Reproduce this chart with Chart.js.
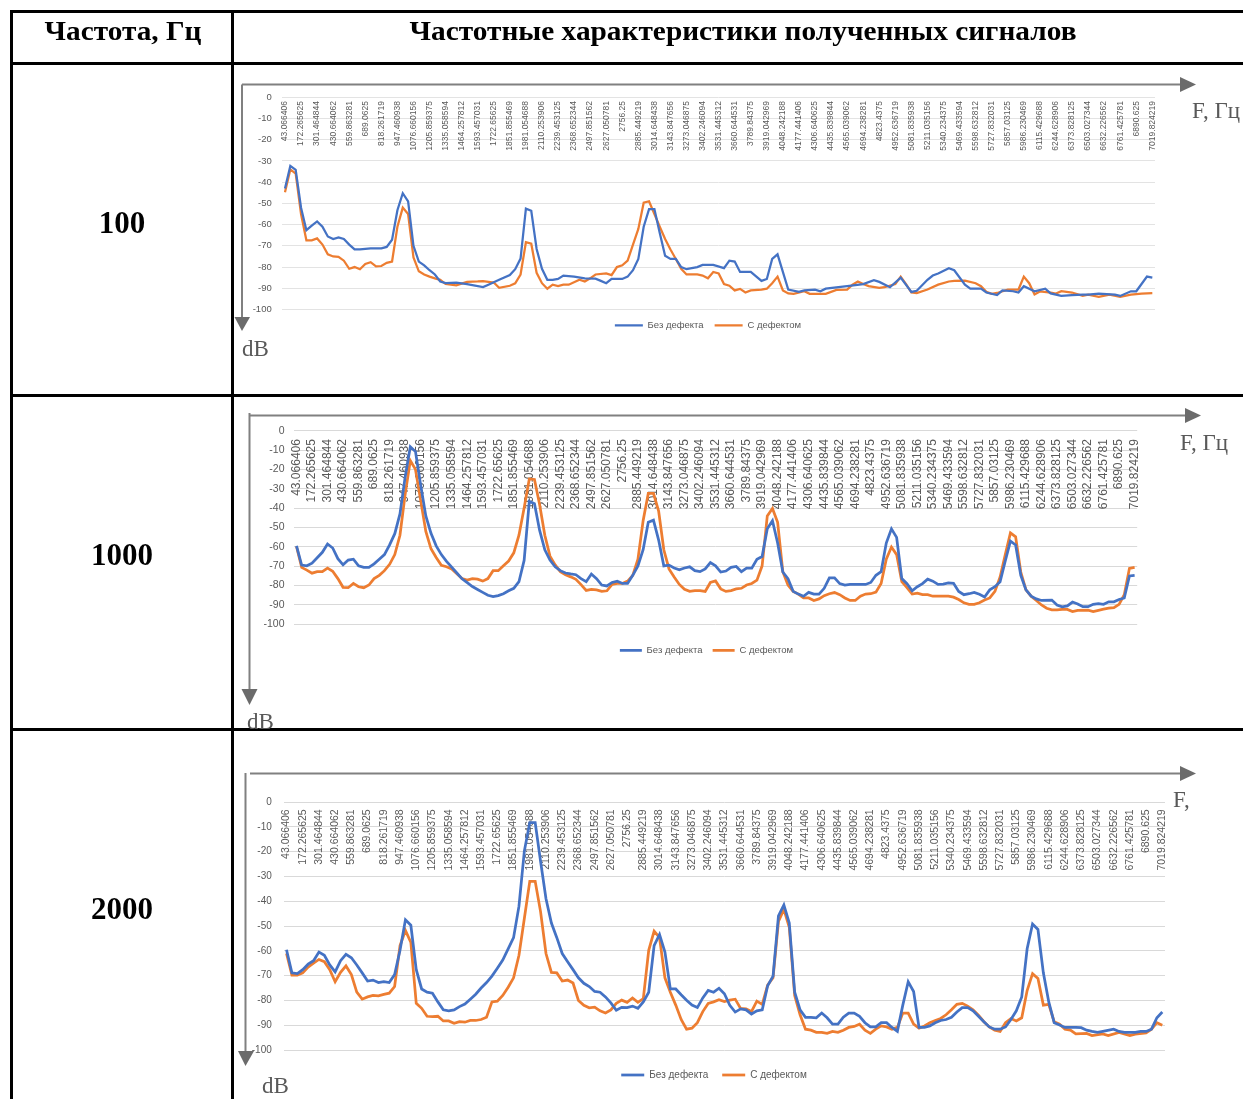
<!DOCTYPE html>
<html lang="ru">
<head>
<meta charset="utf-8">
<title>Частотные характеристики полученных сигналов</title>
<script src="https://cdn.jsdelivr.net/npm/chart.js@4.4.1/dist/chart.umd.min.js"></script>
<style>
  html, body { margin: 0; padding: 0; background: #fff; }
  body { width: 1243px; height: 1099px; position: relative; overflow: hidden; }
  .rule { position: absolute; background: #000; }
  canvas { position: absolute; }
  #deco { position: absolute; left: 0; top: 0; }
</style>
</head>
<body>

<!-- table grid -->
<div class="rule" style="left:10px; top:10px; width:1233px; height:3px"></div>
<div class="rule" style="left:10px; top:62px; width:1233px; height:3px"></div>
<div class="rule" style="left:10px; top:394px; width:1233px; height:3px"></div>
<div class="rule" style="left:10px; top:728px; width:1233px; height:3px"></div>
<div class="rule" style="left:10px; top:10px; width:3px; height:1089px"></div>
<div class="rule" style="left:231px; top:10px; width:3px; height:1089px"></div>

<canvas id="c100" width="928" height="259" style="left:240px; top:81px"></canvas>
<canvas id="c1000" width="898" height="250" style="left:255px; top:415px"></canvas>
<canvas id="c2000" width="934" height="306" style="left:244px; top:784px"></canvas>

<svg id="deco" width="1243" height="1099" xmlns="http://www.w3.org/2000/svg">
  <g font-family="'Liberation Serif', 'Times New Roman', serif" font-weight="bold" fill="#000">
    <text x="123" y="40" font-size="28" text-anchor="middle" textLength="157" lengthAdjust="spacingAndGlyphs">Частота, Гц</text>
    <text x="743" y="40" font-size="28" text-anchor="middle" textLength="667" lengthAdjust="spacingAndGlyphs">Частотные характеристики полученных сигналов</text>
    <text x="122" y="233" font-size="31" text-anchor="middle">100</text>
    <text x="122" y="565" font-size="31" text-anchor="middle">1000</text>
    <text x="122" y="919" font-size="31" text-anchor="middle">2000</text>
  </g>
  <g stroke="#808080" stroke-width="2" fill="none">
    <path d="M242 84.5 H1181 M242 84.5 V318"/>
    <path d="M249.5 415.5 H1186 M249.5 413 V690"/>
    <path d="M250 773.5 H1181 M245.5 773 V1052"/>
  </g>
  <g fill="#6b6b6b">
    <polygon points="1180,77 1196,84.5 1180,92"/>
    <polygon points="234.5,317 250,317 242,331"/>
    <polygon points="1185,408 1201,415.5 1185,423"/>
    <polygon points="241.5,689 257.5,689 249.5,705"/>
    <polygon points="1180,766 1196,773.5 1180,781"/>
    <polygon points="238,1051 254,1051 245.5,1066"/>
  </g>
  <g font-family="'Liberation Serif', 'Times New Roman', serif" font-size="23" fill="#595959">
    <text x="1192" y="118">F, Гц</text>
    <text x="242" y="356">dB</text>
    <text x="1180" y="450">F, Гц</text>
    <text x="247" y="728.5">dB</text>
    <text x="1173" y="807">F,</text>
    <text x="262" y="1092.5">dB</text>
  </g>
</svg>

<script>
// tick labels on the frequency axis: every third bin
const FREQ_TICKS = ['43.066406','172.265625','301.464844','430.664062','559.863281','689.0625',
  '818.261719','947.460938','1076.660156','1205.859375','1335.058594','1464.257812','1593.457031',
  '1722.65625','1851.855469','1981.054688','2110.253906','2239.453125','2368.652344','2497.851562',
  '2627.050781','2756.25','2885.449219','3014.648438','3143.847656','3273.046875','3402.246094',
  '3531.445312','3660.644531','3789.84375','3919.042969','4048.242188','4177.441406','4306.640625',
  '4435.839844','4565.039062','4694.238281','4823.4375','4952.636719','5081.835938','5211.035156',
  '5340.234375','5469.433594','5598.632812','5727.832031','5857.03125','5986.230469','6115.429688',
  '6244.628906','6373.828125','6503.027344','6632.226562','6761.425781','6890.625','7019.824219'];

// [bin index, dB]
const BEZ_100 = [[0,-43],[1,-32.3],[2,-34.2],[3,-52],[4,-62.6],[5,-60.5],[6,-58.5],[7,-61],[8,-65.6],[9,-66.8],
  [10,-66],[11,-66.8],[12,-69.4],[13,-71.7],[14,-71.7],[16,-71.2],[18,-71.2],[19,-70.5],[20,-67.1],[21,-53.2],
  [22,-45.2],[23,-49],[24,-70],[25,-77.4],[26,-79.2],[27,-81.5],[28,-83.5],[29,-86.8],[30,-87.6],[32,-87.3],
  [34,-88],[37,-89.4],[38,-88.3],[40,-86],[42,-83.8],[43,-81],[44,-76],[45,-52.5],[46,-53.5],[47,-71.5],
  [48,-80.8],[49,-86],[50,-86],[51,-85.6],[52,-84],[54,-84.5],[56,-85.3],[58,-85.5],[59,-86.5],[60,-87.6],
  [61,-85.6],[63,-85.6],[64,-84.5],[65,-81.5],[66,-76.2],[67,-61],[68,-52.7],[69,-52.7],[70,-64],[71,-74.7],
  [72,-76.2],[73,-76.2],[74,-80],[75,-81],[77,-80],[78,-79],[80,-79],[82,-80.5],[83,-77],[84,-77.4],
  [85,-82.3],[87,-82.3],[89,-86.5],[90,-85.6],[91,-76.2],[92,-74],[94,-90.6],[96,-91.7],[97,-91],[99,-90.6],
  [100,-91.4],[101,-90.2],[105,-89],[108,-88],[110,-86.2],[111,-87],[113,-89.5],[115,-85],[117,-91.7],[118,-91.2],
  [120,-86],[121,-84],[122,-83],[124,-80.5],[125,-81.5],[127,-88.3],[128,-90.2],[130,-90.2],[131,-92],[133,-93.2],
  [134,-91],[136,-91.4],[137,-92],[138,-89],[140,-91.4],[142,-90.2],[143,-92.4],[145,-93.6],[147,-93.2],[149,-93],
  [150,-93],[152,-92.5],[155,-93],[156,-93.6],[158,-91.4],[159,-91.4],[161,-84.5],[162,-85]];
const S_100 = [[0,-44.7],[1,-34],[2,-36],[3,-55],[4,-67.4],[5,-67.4],[6,-66.5],[7,-69.4],[8,-74],[9,-75],
  [10,-75.2],[11,-77],[12,-80.8],[13,-80],[14,-81],[15,-78.5],[16,-77.7],[17,-79.7],[18,-79.5],[19,-78],
  [20,-77.4],[21,-61],[22,-52],[23,-55],[24,-75.5],[25,-82],[26,-83.5],[27,-84.5],[28,-85.3],[29,-86],
  [30,-88],[32,-88.6],[34,-87],[36,-86.8],[37,-86.6],[39,-87.3],[40,-89.8],[42,-88.8],[43,-87.7],[44,-83.5],
  [45,-68.3],[46,-69],[47,-82.7],[48,-87.6],[49,-90.2],[50,-88.3],[51,-89],[52,-88.3],[53,-88.3],[55,-86],
  [56,-86.8],[57,-85.3],[58,-83.5],[60,-83],[61,-83.8],[62,-80],[63,-79.2],[64,-77],[65,-69.4],[66,-62],
  [67,-49.7],[68,-49],[69,-55],[70,-61],[71,-66.8],[72,-71.7],[73,-76.2],[74,-80.8],[75,-83.5],[77,-83.5],
  [78,-84],[79,-85.3],[80,-82.3],[81,-83],[82,-88],[83,-88.8],[84,-91],[85,-90.3],[86,-92],[87,-91],
  [89,-90.6],[90,-90.2],[91,-87.6],[92,-84.5],[93,-91],[94,-92.4],[95,-92.6],[97,-91.4],[98,-92.6],[101,-92.6],
  [103,-90.8],[105,-90.6],[106,-88.3],[107,-86.8],[108,-88],[109,-89],[111,-89.8],[112,-89.5],[114,-88],[115,-84.5],
  [116,-88],[117,-92],[118,-92.3],[120,-90.6],[122,-88.3],[124,-86.8],[125,-86.5],[127,-86.4],[129,-87.6],[130,-89],
  [131,-91.7],[132,-92.6],[133,-92.2],[135,-90.6],[137,-90.6],[138,-84.5],[139,-87.6],[140,-92.9],[141,-91.5],[143,-92],
  [144,-92.5],[145,-91.4],[147,-92],[149,-93.6],[150,-93],[152,-94],[154,-93],[156,-94],[158,-93],[160,-92.5],[162,-92.3]];

const BEZ_1000 = [[0,-59.5],[1,-69.4],[2,-69.8],[3,-68.4],[4,-65.6],[5,-62.8],[6,-58.5],[7,-60.6],[8,-66.1],[9,-69.3],
  [10,-66.8],[11,-66.4],[12,-69.8],[13,-70.6],[14,-70.6],[15,-68.8],[16,-66.4],[17,-64],[18,-59],[19,-53.2],
  [20,-43],[21,-24],[22,-8.3],[23,-10.8],[24,-28],[25,-44],[26,-53],[27,-59.5],[28,-64],[29,-67.5],
  [30,-70.5],[31,-73.5],[32,-76.5],[33,-78.5],[34,-80.5],[35,-82],[36,-83.5],[37,-85],[38,-85.7],[39,-85.2],
  [40,-84.2],[41,-82.7],[42,-81.4],[43,-78],[44,-67],[45,-36.5],[46,-37.7],[47,-51.5],[48,-61.5],[49,-66.8],
  [50,-70.3],[51,-72.3],[52,-73.5],[53,-74],[54,-74.4],[55,-76.4],[56,-78],[57,-74],[58,-76.4],[59,-79.7],
  [60,-80.2],[61,-78.4],[62,-77.7],[63,-78.9],[64,-78.9],[65,-74.7],[66,-69.8],[67,-61.5],[68,-47.3],[69,-46.2],
  [70,-56.5],[71,-69.8],[72,-69.4],[73,-70.9],[74,-71.9],[75,-70.9],[76,-70.3],[77,-72.3],[78,-72.8],[79,-71.4],
  [80,-68.1],[81,-69.8],[82,-73],[83,-72.5],[84,-70.6],[85,-70.1],[86,-72.8],[87,-71],[88,-71],[89,-66.4],
  [90,-65],[91,-50.7],[92,-46.5],[93,-58],[94,-73],[95,-76.4],[96,-83],[97,-84.4],[98,-85.5],[99,-83.5],
  [100,-84.4],[101,-84.4],[102,-81.4],[103,-76],[104,-76],[105,-79],[106,-79.7],[107,-79.4],[110,-79.4],[111,-78.4],
  [112,-74.7],[113,-72.8],[114,-58],[115,-50.7],[116,-55.1],[117,-76.4],[118,-79],[119,-82.7],[120,-80.6],[121,-79],
  [122,-76.7],[123,-77.7],[124,-79.4],[125,-79.2],[126,-78.6],[127,-78.8],[128,-83],[129,-84.7],[130,-84.2],[131,-83.5],
  [132,-84.5],[133,-85.9],[134,-82.2],[135,-80.6],[136,-78],[137,-67.3],[138,-57],[139,-59],[140,-74.7],[141,-82.2],
  [142,-85.5],[143,-86.9],[144,-87.7],[146,-87.5],[147,-90],[148,-91],[149,-90.5],[150,-88.5],[151,-89.5],[152,-90.9],
  [153,-90.9],[154,-89.7],[155,-89.3],[156,-89.7],[157,-88.4],[158,-88.4],[159,-87.2],[160,-86.4],[161,-75],[162,-74.7]];
const S_1000 = [[0,-59.8],[1,-70.6],[2,-72],[3,-73.6],[4,-72.8],[5,-72.8],[6,-71],[7,-72.6],[8,-76.4],[9,-80.9],
  [10,-81.1],[11,-78.9],[12,-80.6],[13,-81.1],[14,-79.7],[15,-76.4],[16,-74.7],[17,-72.3],[18,-69],[19,-64],
  [20,-54],[21,-33],[22,-15.4],[23,-20],[24,-36],[25,-52],[26,-61],[27,-65.5],[28,-69.5],[29,-70.3],
  [30,-71.4],[31,-73.9],[32,-76.4],[33,-77.2],[34,-76.4],[35,-76.7],[36,-77.7],[37,-76.4],[38,-72.3],[39,-72.3],
  [40,-69.8],[41,-67.3],[42,-63.1],[43,-54],[44,-39.9],[45,-24.9],[46,-25.2],[47,-38.2],[48,-54],[49,-64.8],
  [50,-69.3],[51,-72.8],[52,-74.4],[53,-75.5],[54,-76.8],[55,-79.5],[56,-82.5],[57,-82],[58,-82.2],[59,-83],
  [60,-82.7],[61,-79.4],[62,-78.9],[63,-78.9],[64,-77.7],[65,-74.7],[66,-66.4],[67,-46.5],[68,-32.4],[69,-32.4],
  [70,-41.5],[71,-61.5],[72,-71.4],[73,-75.6],[74,-79.4],[75,-81.9],[76,-83],[77,-82.6],[78,-82.6],[79,-83],
  [80,-78.4],[81,-77.6],[82,-81.7],[83,-83],[84,-82.6],[85,-81.7],[86,-81.4],[87,-79.7],[88,-78.9],[89,-77.2],
  [90,-69.8],[91,-44],[92,-40.2],[93,-47.3],[94,-72.8],[95,-79.7],[96,-83],[97,-84.4],[98,-86.4],[99,-86.4],
  [100,-87.7],[101,-86.9],[102,-85.2],[103,-84.2],[104,-83.6],[105,-84.7],[106,-86.4],[107,-87.7],[108,-87.7],[109,-85.5],
  [110,-84.4],[111,-84.2],[112,-83.4],[113,-78.9],[114,-66.4],[115,-60.1],[116,-64],[117,-78],[118,-81.1],[119,-84.4],
  [120,-83.9],[121,-84.7],[122,-84.7],[123,-85.5],[126,-85.5],[127,-86],[128,-87.2],[129,-88.9],[130,-89.7],[131,-89.7],
  [132,-88.9],[133,-87.5],[134,-86.4],[135,-83],[136,-75.6],[137,-64],[138,-52.8],[139,-54.8],[140,-73],[141,-82.2],
  [142,-85.5],[143,-87.7],[144,-90],[145,-91.7],[146,-92.5],[147,-92.6],[148,-92.3],[149,-92.3],[150,-93.4],[151,-92.8],
  [153,-92.7],[154,-93.4],[155,-92.8],[156,-92.2],[157,-91.7],[158,-91.4],[159,-89.7],[160,-84.7],[161,-71.1],[162,-70.6]];

const BEZ_2000 = [[0,-59.6],[1,-68.9],[2,-69.2],[3,-67.6],[4,-65.4],[5,-64],[6,-60.5],[7,-61.8],[8,-65.7],[9,-68.5],
  [10,-64],[11,-61.4],[12,-62.8],[13,-65.7],[14,-68.9],[15,-72.2],[16,-71.8],[17,-72.8],[18,-72.4],[19,-72.8],
  [20,-69.6],[21,-59.8],[22,-47.5],[23,-49.7],[24,-67.6],[25,-75.4],[26,-76.7],[27,-77.1],[28,-80.6],[29,-83.8],
  [30,-84.2],[31,-83.8],[32,-82.5],[33,-81.5],[34,-79.5],[35,-77.5],[36,-75],[37,-72.8],[38,-70.2],[39,-67],
  [40,-63.7],[41,-59.2],[42,-54.7],[43,-42],[44,-19.7],[45,-8.3],[46,-8.3],[47,-24],[48,-39],[49,-48.8],
  [50,-54.7],[51,-61.1],[52,-64.4],[53,-67.6],[54,-70.9],[55,-73.1],[56,-74.4],[57,-76.4],[58,-76.7],[59,-78.6],
  [60,-81],[61,-84],[62,-82.8],[63,-82.9],[64,-82.3],[65,-83.2],[66,-80.6],[67,-76.7],[68,-57.9],[69,-53.4],
  [70,-60.5],[71,-75.4],[72,-75.4],[73,-77.7],[74,-79.9],[75,-81.9],[76,-82.9],[77,-79],[78,-76],[79,-76.7],
  [80,-75.1],[81,-77.3],[82,-82],[83,-84.7],[84,-83.4],[85,-83.8],[86,-85.5],[87,-84.2],[88,-83.8],[89,-74.1],
  [90,-70.2],[91,-45.9],[92,-41.5],[93,-48.8],[94,-76.7],[95,-83.8],[96,-86.8],[97,-86.8],[98,-87],[99,-85.1],
  [100,-87],[101,-89.6],[102,-89.6],[103,-86.8],[104,-85.1],[105,-85.1],[106,-86.4],[107,-89],[108,-90.7],[109,-90.7],
  [110,-89],[111,-89],[112,-90.9],[113,-92.5],[114,-81.9],[115,-72.5],[116,-76.4],[117,-90.9],[118,-90.9],[119,-90.3],
  [120,-89],[121,-88.1],[122,-87.7],[123,-86.8],[124,-84.7],[125,-82.9],[126,-82.9],[127,-84.2],[128,-86.4],[129,-88.6],
  [130,-90.7],[131,-91.6],[132,-91.6],[133,-90.7],[134,-87.7],[135,-84.2],[136,-78.6],[137,-59.2],[138,-49.2],[139,-51.4],
  [140,-68.9],[141,-80.6],[142,-89],[143,-89.9],[144,-90.9],[146,-90.9],[147,-91],[148,-92],[149,-92.5],[150,-92.9],
  [151,-92.5],[153,-91.6],[154,-92.5],[155,-92.9],[157,-92.9],[158,-92.5],[159,-92.5],[160,-91.6],[161,-87],[162,-84.7]];
const S_2000 = [[0,-61.1],[1,-69.8],[2,-69.8],[3,-68.9],[4,-66.6],[5,-65],[6,-63.5],[7,-64.4],[8,-67.6],[9,-72.5],
  [10,-68.7],[11,-66.1],[12,-69.6],[13,-76.7],[14,-79.5],[15,-78.6],[16,-78],[17,-78.2],[18,-77.6],[19,-77.1],
  [20,-74.4],[21,-57.9],[22,-51.8],[23,-56.6],[24,-81.2],[25,-83.2],[26,-86.4],[27,-86.5],[28,-86.4],[29,-88.3],
  [30,-88.3],[31,-89.2],[32,-88.6],[33,-88.8],[34,-88.1],[35,-88.1],[36,-87.7],[37,-86.8],[38,-80.6],[39,-80.3],
  [40,-78],[41,-74.7],[42,-70.9],[43,-61.8],[44,-46.9],[45,-32],[46,-32],[47,-44.3],[48,-61.1],[49,-68.7],
  [50,-68.9],[51,-72.2],[52,-71.8],[53,-73],[54,-80],[55,-82],[56,-83],[57,-82.7],[58,-84.2],[59,-85.1],
  [60,-83.8],[61,-81.2],[62,-79.9],[63,-80.8],[64,-79],[65,-80.8],[66,-79.3],[67,-59.8],[68,-52.1],[69,-54.7],
  [70,-70.9],[71,-76.7],[72,-81.9],[73,-87.7],[74,-91.6],[75,-91.2],[76,-89],[77,-84.5],[78,-81.2],[79,-80.6],
  [80,-79.7],[81,-80.5],[82,-79.9],[83,-79.5],[84,-83.2],[85,-83.4],[86,-84.5],[87,-80.3],[88,-81.6],[89,-73.8],
  [90,-70.9],[91,-48.2],[92,-43.3],[93,-50.5],[94,-78],[95,-85.8],[96,-91.6],[97,-92],[98,-92.9],[99,-92.9],
  [100,-93.3],[101,-92.5],[102,-92.9],[103,-92],[104,-90.9],[105,-90.5],[106,-89.6],[107,-92],[108,-93.3],[109,-91.6],
  [110,-90.3],[111,-90.7],[112,-91.6],[113,-90.9],[114,-85.1],[115,-85.1],[116,-89.6],[117,-91.2],[118,-90.3],[119,-89],
  [120,-88.1],[121,-87.3],[122,-85.8],[123,-83.8],[124,-81.6],[125,-81.2],[126,-82.3],[127,-83.8],[128,-86],[129,-88.6],
  [130,-90.7],[131,-92],[132,-92.5],[133,-89],[134,-87.3],[135,-88.3],[136,-87],[137,-76],[138,-69.2],[139,-71.2],
  [140,-81.9],[141,-81.6],[142,-88.6],[143,-89.6],[144,-91.6],[145,-92],[146,-93.5],[148,-93.3],[149,-94.2],[151,-93.5],
  [152,-94.2],[154,-92.9],[156,-94.2],[157,-93.6],[159,-93.1],[160,-91.6],[161,-89],[162,-90]];

const BLUE = '#4472C4';
const ORANGE = '#ED7D31';
const TXT = '#595959';
const SANS = '"Liberation Sans", Arial, sans-serif';

function drawChart(id, bez, def, o) {
    const xy = arr => arr.map(([x, y]) => ({ x, y }));
    const line = (label, data, color) => ({
        label, data: xy(data), yAxisID: 'y',
        borderColor: color, backgroundColor: color,
        borderWidth: o.lw, pointRadius: 0, tension: 0
    });
    return new Chart(document.getElementById(id), {
        type: 'line',
        data: { datasets: [line('Без дефекта', bez, BLUE), line('С дефектом', def, ORANGE)] },
        options: {
            responsive: false,
            animation: false,
            events: [],
            layout: { padding: { top: o.padTop, left: o.padLeft, right: 0, bottom: 0 } },
            scales: {
                x: {
                    type: 'linear',
                    position: { y: 0 },
                    min: -0.5, max: 162.5,
                    grid: { display: false, drawTicks: false },
                    border: { display: false },
                    afterBuildTicks: s => { s.ticks = FREQ_TICKS.map((_, j) => ({ value: j * 3 })); },
                    afterFit: s => { s.height = 0; s.paddingLeft = s.paddingRight = s.paddingTop = s.paddingBottom = 0; },
                    ticks: {
                        autoSkip: false, minRotation: 90, maxRotation: 90,
                        padding: o.xPad, color: TXT,
                        font: { family: SANS, size: o.xFont },
                        callback: (v, i) => FREQ_TICKS[i]
                    }
                },
                y: {
                    position: 'left',
                    min: -100, max: 0,
                    grid: { color: o.grid, drawTicks: false },
                    border: { display: false },
                    afterFit: s => { s.width = o.yw; },
                    ticks: { stepSize: 10, padding: o.yPad, color: TXT, font: { family: SANS, size: o.yFont } }
                },
                // empty strip on the right so the legend sits where the original one does
                yPad: {
                    type: 'linear', position: 'right',
                    grid: { display: false, drawTicks: false },
                    border: { display: false },
                    ticks: { display: false },
                    afterFit: s => { s.width = o.padRight; }
                }
            },
            plugins: {
                tooltip: { enabled: false },
                legend: {
                    position: 'bottom',
                    title: { display: o.gap > 0, text: '', font: { size: 1 }, padding: { top: o.gap, bottom: 0 } },
                    labels: {
                        usePointStyle: true, pointStyle: 'line', pointStyleWidth: o.sample,
                        padding: o.legPad, color: TXT,
                        font: { family: SANS, size: o.legFont }
                    }
                }
            }
        }
    });
}

drawChart('c100', BEZ_100, S_100, {
    lw: 2.25, padTop: 8, padLeft: 8, yw: 34.3, padRight: 13, grid: '#e3e3e3',
    xPad: 3.7, xFont: 8.5, yPad: 10.6, yFont: 9.5,
    gap: 0, legPad: 11, legFont: 9.5, sample: 28
});
drawChart('c1000', BEZ_1000, S_1000, {
    lw: 2.75, padTop: 8.3, padLeft: 5, yw: 33.9, padRight: 15.8, grid: '#d9d9d9',
    xPad: 8.4, xFont: 12, yPad: 9.4, yFont: 10.5,
    gap: 10, legPad: 10, legFont: 9.5, sample: 22
});
drawChart('c2000', BEZ_2000, S_2000, {
    lw: 2.75, padTop: 8.7, padLeft: 6, yw: 33.8, padRight: 13, grid: '#d9d9d9',
    xPad: 7.3, xFont: 10.5, yPad: 12, yFont: 10,
    gap: 4.8, legPad: 14, legFont: 10, sample: 23
});
</script>
</body>
</html>
